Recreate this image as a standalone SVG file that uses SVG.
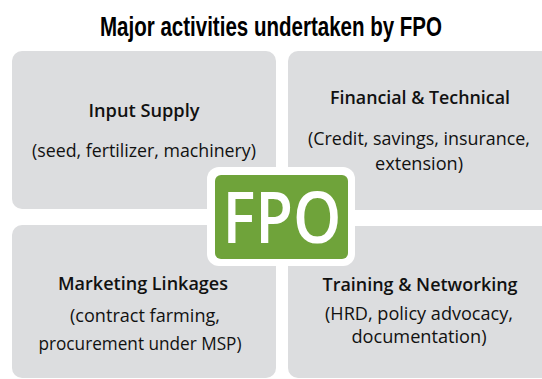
<svg xmlns="http://www.w3.org/2000/svg" width="542" height="379" viewBox="0 0 542 379">
<style>
.box{fill:#dcdddf}
.h{font-family:"Open Sans","Noto Sans","Liberation Sans",sans-serif;font-weight:600;font-size:18px;fill:#111;text-anchor:middle}
.t{font-family:"Open Sans","Noto Sans","Liberation Sans",sans-serif;font-size:18px;fill:#111;text-anchor:middle}
</style>
<rect width="542" height="379" fill="#ffffff"/>
<text x="271" y="36" font-family="'Liberation Sans',Arial,sans-serif" font-weight="bold" font-size="27" fill="#000" text-anchor="middle" textLength="342" lengthAdjust="spacingAndGlyphs">Major activities undertaken by FPO</text>
<g id="input-supply">
<rect class="box" x="12" y="51" width="264" height="158" rx="10"/>
<text class="h" x="144" y="117" textLength="111" lengthAdjust="spacingAndGlyphs">Input Supply</text>
<text class="t" x="144" y="157" textLength="224" lengthAdjust="spacingAndGlyphs">(seed, fertilizer, machinery)</text>
</g>
<g id="financial-technical">
<rect class="box" x="288" y="51" width="264" height="159" rx="10"/>
<text class="h" x="420" y="104" textLength="180" lengthAdjust="spacingAndGlyphs">Financial &amp; Technical</text>
<text class="t" x="419" y="145" textLength="222" lengthAdjust="spacingAndGlyphs">(Credit, savings, insurance,</text>
<text class="t" x="419" y="170" textLength="88" lengthAdjust="spacingAndGlyphs">extension)</text>
</g>
<g id="marketing-linkages">
<rect class="box" x="12" y="225" width="264" height="153" rx="10"/>
<text class="h" x="143" y="290" textLength="170" lengthAdjust="spacingAndGlyphs">Marketing Linkages</text>
<text class="t" x="145" y="322" textLength="150" lengthAdjust="spacingAndGlyphs">(contract farming,</text>
<text class="t" x="140" y="350" textLength="203" lengthAdjust="spacingAndGlyphs">procurement under MSP)</text>
</g>
<g id="training-networking">
<rect class="box" x="288" y="226" width="264" height="152" rx="10"/>
<text class="h" x="420" y="291" textLength="195" lengthAdjust="spacingAndGlyphs">Training &amp; Networking</text>
<text class="t" x="419" y="320" textLength="188" lengthAdjust="spacingAndGlyphs">(HRD, policy advocacy,</text>
<text class="t" x="419" y="343" textLength="135" lengthAdjust="spacingAndGlyphs">documentation)</text>
</g>
<g id="fpo">
<rect x="207" y="167" width="148" height="99" rx="12" fill="#ffffff"/>
<rect x="215" y="175" width="133" height="84" rx="6" fill="#6fa33a"/>
<text x="282" y="243" font-family="'Open Sans','Noto Sans','Liberation Sans',sans-serif" font-weight="600" font-size="71" fill="#ffffff" text-anchor="middle" textLength="119" lengthAdjust="spacingAndGlyphs">FPO</text>
</g>
<g id="connectors"></g>
</svg>
